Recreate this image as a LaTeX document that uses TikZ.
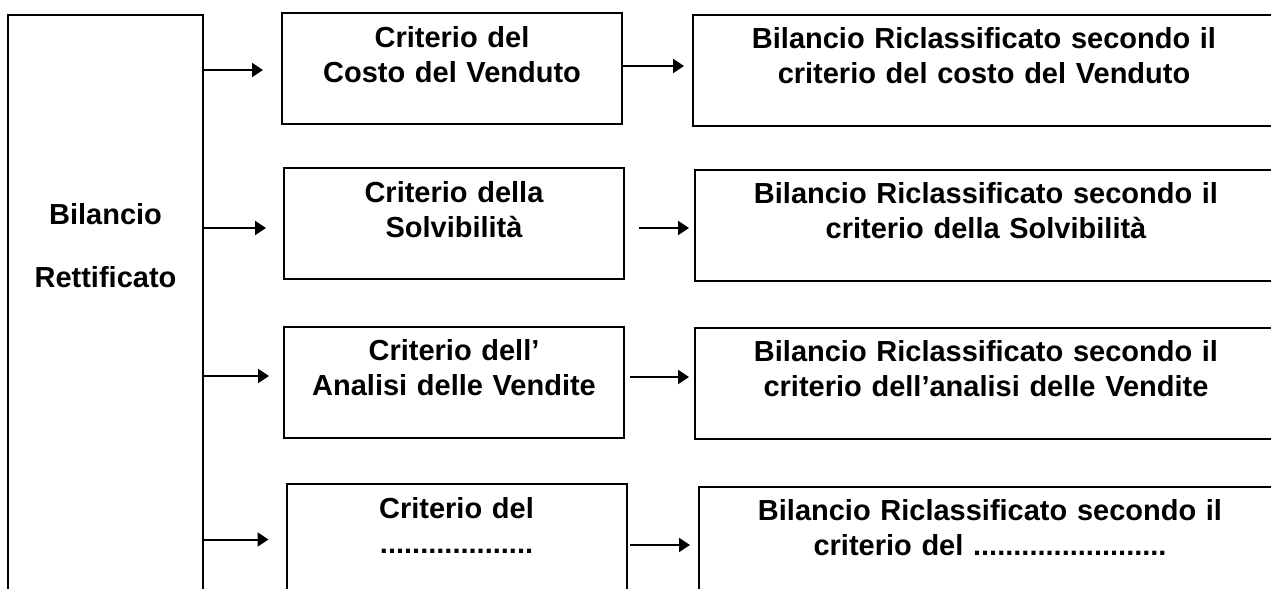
\documentclass[tikz,border=0pt]{standalone}
\usepackage{fontspec}
\setmainfont{Liberation Sans}
\usetikzlibrary{arrows.meta}
\usetikzlibrary{calc}

\tikzset{
  box/.style={draw, line width=1pt, inner sep=0pt, align=center,
    font=\bfseries\fontsize{14.5}{17.5}\selectfont},
  critbox/.style={box, text width=170pt, text height=17pt, text depth=38.5pt},
  bilbox/.style={box, text width=291pt, text height=17pt, text depth=38.5pt},
  leftbox/.style={box, text width=97.5pt, text height=104.5pt, text depth=205.5pt},
  conn/.style={-{Triangle[length=5.5pt,width=7pt]}, line width=1pt},
}

\begin{document}
\begin{tikzpicture}[x=0.5pt,y=-0.5pt]
            \useasboundingbox (0,0) rectangle (1271,589);
            \clip (0,0) rectangle (1271,589);

            \node[leftbox] (bil) at (105.5,325) {Bilancio\\[14pt]Rettificato};

            \node[critbox] (cvend) at (452,68.5) {Criterio del\\Costo del Venduto};
            \node[critbox] (csolv) at (454,223.5) {Criterio della\\Solvibilità};
            \node[critbox] (cvendite) at (454,382) {Criterio dell’\\Analisi delle Vendite};
            \node[critbox] (caltro) at (456.5,539.5) {Criterio del\\...................};

            \node[bilbox] (bvend) at (984,70) {Bilancio Riclassificato secondo il\\criterio del costo del Venduto};
            \node[bilbox] (bsolv) at (986,225) {Bilancio Riclassificato secondo il\\criterio della Solvibilità};
            \node[bilbox] (bvendite) at (986,383) {Bilancio Riclassificato secondo il\\criterio dell’analisi delle Vendite};
            \node[bilbox] (baltro) at (990,542) {Bilancio Riclassificato secondo il\\criterio del ........................};

            % from the left box
            \draw[conn, shorten >=9pt] ([yshift=-0.75pt]bil.east |- cvend.west) -- ([yshift=-0.75pt]cvend.west);
            \draw[conn, shorten >=8.5pt] ([yshift=-2.25pt]bil.east |- csolv.west) -- ([yshift=-2.25pt]csolv.west);
            \draw[conn, shorten >=7pt] ([yshift=3pt]bil.east |- cvendite.west) -- ([yshift=3pt]cvendite.west);
            \draw[conn, shorten >=8.5pt] (bil.east |- caltro.west) -- (caltro.west);

            % to the right boxes
            \draw[conn, shorten >=4pt] ([yshift=1.25pt]cvend.east) -- ([yshift=1.25pt]cvend.east -| bvend.west);
            \draw[conn, shorten <=7pt, shorten >=2.5pt] ([yshift=-2.25pt]csolv.east) -- ([yshift=-2.25pt]csolv.east -| bsolv.west);
            \draw[conn, shorten <=2.5pt, shorten >=2.5pt] ([yshift=2.5pt]cvendite.east) -- ([yshift=2.5pt]cvendite.east -| bvendite.west);
            \draw[conn, shorten <=1pt, shorten >=4pt] ([yshift=-2.75pt]caltro.east) -- ([yshift=-2.75pt]caltro.east -| baltro.west);
        \end{tikzpicture}
\end{document}
